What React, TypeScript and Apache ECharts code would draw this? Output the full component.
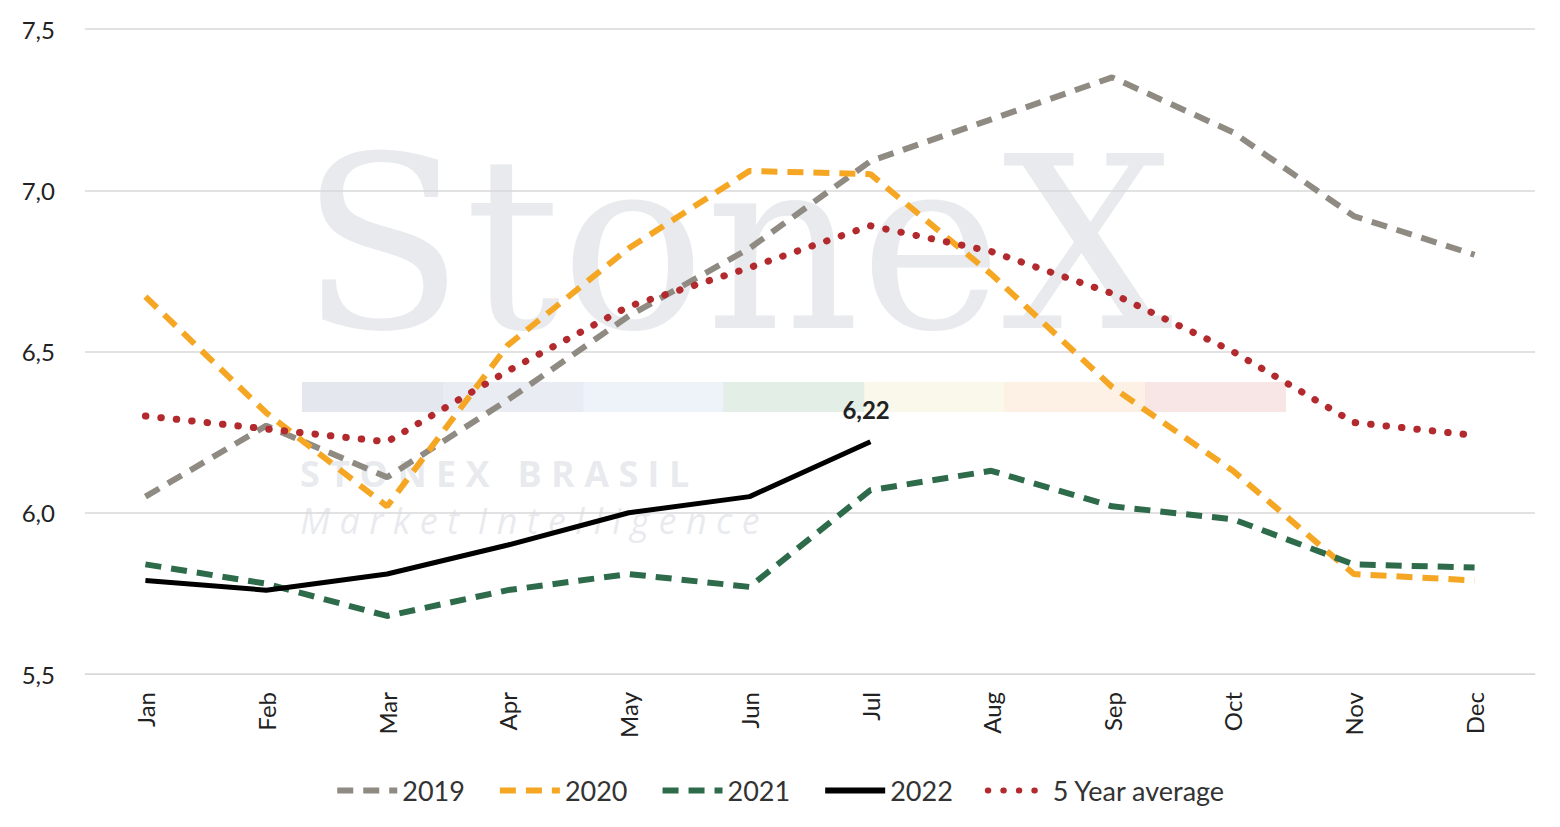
import * as echarts from "echarts";
import { useEffect, useRef } from "react";

const months = ["Jan", "Feb", "Mar", "Apr", "May", "Jun", "Jul", "Aug", "Sep", "Oct", "Nov", "Dec"];
const y2019 = [6.05, 6.27, 6.11, 6.35, 6.61, 6.82, 7.09, 7.22, 7.35, 7.18, 6.92, 6.8];
const y2020 = [6.67, 6.31, 6.02, 6.52, 6.82, 7.06, 7.05, 6.74, 6.39, 6.13, 5.81, 5.79];
const y2021 = [5.84, 5.78, 5.68, 5.76, 5.81, 5.77, 6.07, 6.13, 6.02, 5.98, 5.84, 5.83];
const y2022 = [5.79, 5.76, 5.81, 5.9, 6.0, 6.05, 6.22];
const avg5 = [6.3, 6.26, 6.22, 6.44, 6.64, 6.76, 6.89, 6.81, 6.68, 6.5, 6.28, 6.24];

const font = "Lato";
const fmt = (v: number) => v.toFixed(1).replace(".", ",");
const wm = "rgba(200,205,215,0.42)";

export default function App() {
  const ref = useRef<HTMLDivElement>(null);

  useEffect(() => {
    document.body.style.margin = "0";
    if (!ref.current) return;
    const chart = echarts.init(ref.current, undefined, { renderer: "svg" });

    const dashed = (name: string, data: number[], color: string) => ({
      name,
      type: "line",
      data,
      symbol: "none",
      lineStyle: { color, width: 6, type: [16, 10] },
      itemStyle: { color },
      z: 3,
    });

    chart.setOption({
      animation: false,
      textStyle: { fontFamily: font },
      graphic: [
        {
          type: "text",
          left: 300,
          top: 125,
          z: -1,
          style: { text: "StoneX", font: "240px 'DejaVu Serif'", fill: wm },
        },
        {
          type: "text",
          left: 300,
          top: 455,
          z: -1,
          style: { text: "S T O N E X   B R A S I L", font: "bold 36px 'Open Sans'", fill: wm },
        },
        {
          type: "text",
          left: 300,
          top: 502,
          z: -1,
          style: { text: "M a r k e t  I n t e l l i g e n c e", font: "italic 36px 'Open Sans'", fill: wm },
        },
        ...["#d9dde5", "#dfe6ee", "#e5eef7", "#d7e7dd", "#f8f5e3", "#fbebd8", "#f5dcdc"].map((c, i) => ({
          type: "rect",
          left: 302 + i * 140.5,
          top: 382,
          z: -1,
          shape: { width: 141, height: 30 },
          style: { fill: c, opacity: 0.7 },
        })),
      ],
      grid: { left: 85, right: 25, top: 29, bottom: 153 },
      legend: {
        bottom: 18,
        itemWidth: 60,
        itemHeight: 12,
        itemGap: 32,
        itemStyle: { opacity: 0 },
        lineStyle: { width: 6 },
        textStyle: { fontSize: 27, color: "#333", fontFamily: font },
        data: ["2019", "2020", "2021", "2022", "5 Year average"],
      },
      xAxis: {
        type: "category",
        data: months,
        boundaryGap: true,
        axisLine: { lineStyle: { color: "#d9d9d9" } },
        axisTick: { show: false },
        axisLabel: { rotate: 90, fontSize: 24, color: "#222", margin: 18 },
      },
      yAxis: {
        type: "value",
        min: 5.5,
        max: 7.5,
        interval: 0.5,
        axisLabel: { formatter: fmt, fontSize: 24, color: "#222", margin: 30 },
        splitLine: { lineStyle: { color: "#d9d9d9", width: 1.5 } },
      },
      series: [
        dashed("2019", y2019, "#8f8b83"),
        dashed("2020", y2020, "#f5a623"),
        dashed("2021", y2021, "#2e6b4a"),
        {
          name: "2022",
          type: "line",
          data: y2022,
          symbol: "none",
          lineStyle: { color: "#000", width: 5 },
          itemStyle: { color: "#000" },
          z: 4,
          endLabel: {
            show: true,
            formatter: (p: any) => p.value.toFixed(2).replace(".", ","),
            offset: [-36, -32],
            fontSize: 24,
            fontWeight: "bold",
            color: "#222",
          },
        },
        {
          name: "5 Year average",
          type: "line",
          data: avg5,
          symbol: "none",
          lineStyle: { color: "#b22a2e", width: 7, type: [0.5, 15], cap: "round" },
          itemStyle: { color: "#b22a2e" },
          z: 3,
        },
      ],
    });
    return () => chart.dispose();
  }, []);

  return <div ref={ref} style={{ width: 1560, height: 827 }} />;
}
